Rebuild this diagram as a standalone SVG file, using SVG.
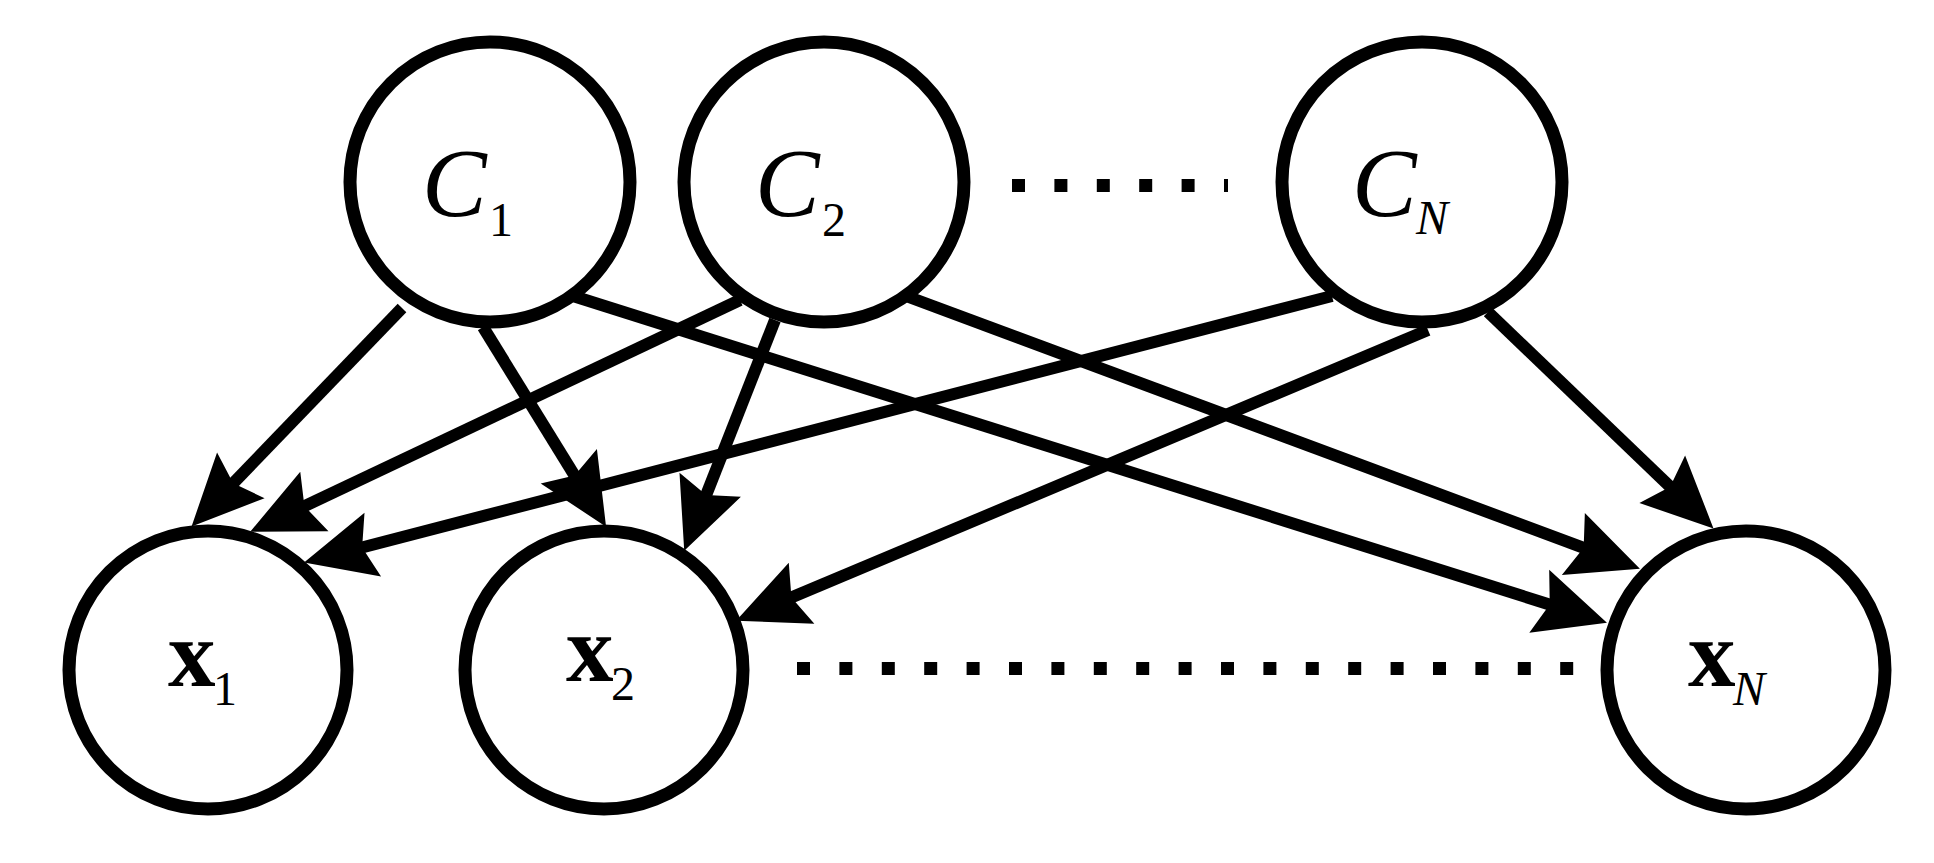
<svg xmlns="http://www.w3.org/2000/svg" width="1934" height="863" viewBox="0 0 1934 863">
<style>
.node{fill:none;stroke:#000;stroke-width:13}
.edge{fill:none;stroke:#000;stroke-width:12}
.dots{fill:none;stroke:#000;stroke-width:13;stroke-dasharray:13 29.4}
.lbl{font-family:"Liberation Serif","Times New Roman",serif;fill:#000}
.it{font-style:italic;font-size:97px}
.bf{font-weight:bold;font-size:95px}
.sub{font-size:48px}
.subi{font-size:48px;font-style:italic}
</style>
<defs>
<marker id="ah" markerUnits="userSpaceOnUse" viewBox="0 -35 75 70" markerWidth="75" markerHeight="70" refX="44" refY="0" orient="auto" overflow="visible">
<path d="M71,0 L0,-33 L11,0 L0,33 Z" fill="#000"/>
</marker>
</defs>
<rect width="1934" height="863" fill="#fff"/>
<g id="C1"><circle class="node" cx="490" cy="182" r="140"/><text class="lbl it" x="422" y="216">C</text><text class="lbl sub" x="489" y="236">1</text></g>
<g id="C2"><circle class="node" cx="824" cy="182" r="140"/><text class="lbl it" x="755" y="216">C</text><text class="lbl sub" x="822" y="236">2</text></g>
<g id="CN"><circle class="node" cx="1422" cy="182" r="140"/><text class="lbl it" x="1352" y="216">C</text><text class="lbl subi" x="1416" y="234">N</text></g>
<g id="X1"><circle class="node" cx="208" cy="670" r="139"/><text class="lbl bf" x="168" y="686">x</text><text class="lbl sub" x="213" y="705">1</text></g>
<g id="X2"><circle class="node" cx="604" cy="670" r="139"/><text class="lbl bf" x="566" y="681">x</text><text class="lbl sub" x="611" y="700">2</text></g>
<g id="XN"><circle class="node" cx="1746" cy="670" r="139"/><text class="lbl bf" x="1688" y="686">x</text><text class="lbl subi" x="1733" y="705">N</text></g>
<g id="connectors">
<line class="edge" x1="402" y1="308" x2="210.3" y2="507" marker-end="url(#ah)"/>
<line class="edge" x1="483" y1="327" x2="591.9" y2="503.7" marker-end="url(#ah)"/>
<line class="edge" x1="573" y1="296" x2="1581.2" y2="614.5" marker-end="url(#ah)"/>
<line class="edge" x1="740" y1="300" x2="274.6" y2="520.3" marker-end="url(#ah)"/>
<line class="edge" x1="775" y1="320" x2="694.1" y2="525.7" marker-end="url(#ah)"/>
<line class="edge" x1="906" y1="296" x2="1614.6" y2="559.3" marker-end="url(#ah)"/>
<line class="edge" x1="1332" y1="296" x2="330.2" y2="555.7" marker-end="url(#ah)"/>
<line class="edge" x1="1428" y1="330" x2="761" y2="610.3" marker-end="url(#ah)"/>
<line class="edge" x1="1488" y1="312" x2="1694" y2="509.7" marker-end="url(#ah)"/>
<line class="dots" x1="1012" y1="185.5" x2="1228" y2="185.5"/>
<line class="dots" x1="797" y1="668.5" x2="1574" y2="668.5"/>
</g>
</svg>
